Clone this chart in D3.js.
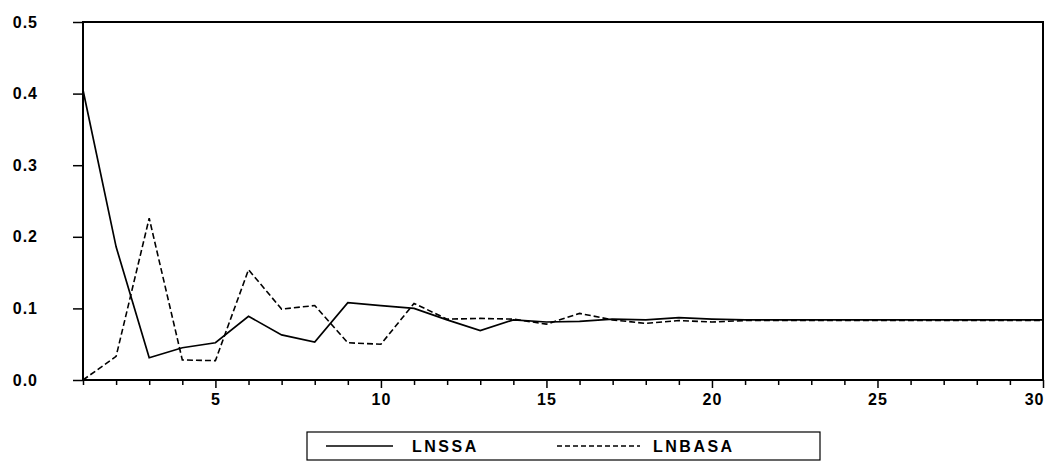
<!DOCTYPE html>
<html>
<head>
<meta charset="utf-8">
<script src="https://cdn.jsdelivr.net/npm/d3@7"></script>
<style>
  body { margin: 0; background: #fff; }
  text { font-family: "Liberation Sans", Arial, sans-serif; font-weight: bold; }
</style>
</head>
<body>
<svg id="chart" width="1046" height="461"></svg>
<script>
var periods = d3.range(1, 31);
var lnssa = [0.405,0.186,0.031,0.045,0.052,0.089,0.063,0.053,0.108,0.104,
             0.100,0.084,0.069,0.084,0.081,0.082,0.085,0.084,0.087,0.085,
             0.084,0.084,0.084,0.084,0.084,0.084,0.084,0.084,0.084,0.084];
var lnbasa = [0.000,0.033,0.226,0.028,0.027,0.154,0.099,0.104,0.052,0.050,
              0.107,0.085,0.086,0.085,0.078,0.093,0.084,0.079,0.083,0.081,
              0.083,0.083,0.083,0.083,0.083,0.083,0.083,0.083,0.083,0.083];
var yTicks = [0.0, 0.1, 0.2, 0.3, 0.4, 0.5];
var seriesNames = ["LNSSA", "LNBASA"];

var svg = d3.select("#chart");
var plotLeft = 83, plotRight = 1043, plotTop = 22, plotBottom = 380;

var x = d3.scaleLinear().domain([1, 30]).range([plotLeft, plotRight]);
var y = d3.scaleLinear().domain([0, 0.5]).range([plotBottom, plotTop]);

// frame
svg.append("rect")
  .attr("x", plotLeft).attr("y", plotTop)
  .attr("width", plotRight - plotLeft).attr("height", plotBottom - plotTop)
  .attr("fill", "none").attr("stroke", "#000").attr("stroke-width", 2);

// y axis
var yAxis = svg.append("g")
  .attr("transform", "translate(" + plotLeft + ",0)")
  .call(d3.axisLeft(y).tickValues(yTicks).tickFormat(d3.format(".1f")).tickSize(10).tickPadding(35));
yAxis.select(".domain").remove();
yAxis.selectAll("line").attr("stroke-width", 1.5);
yAxis.selectAll("text").attr("font-size", 16).attr("letter-spacing", 1).attr("fill", "#000");

// x axis: minor ticks at every period, labels at multiples of 5
var xAxis = svg.append("g")
  .attr("transform", "translate(0," + plotBottom + ")")
  .call(d3.axisBottom(x).tickValues(periods)
    .tickFormat(function(d){ return d % 5 === 0 ? d : ""; })
    .tickSize(5).tickPadding(9));
xAxis.select(".domain").remove();
xAxis.selectAll(".tick line")
  .attr("y2", function(d){ return d % 5 === 0 ? 8 : 5; })
  .attr("stroke-width", 1.5);
xAxis.selectAll("text").attr("font-size", 16).attr("letter-spacing", 1).attr("fill", "#000");
// last label would run off the page: pull it inside
xAxis.selectAll(".tick text")
  .filter(function(d){ return d === 30; })
  .attr("text-anchor", "end").attr("dx", 1);

var line = d3.line()
  .x(function(d,i){ return x(periods[i]); })
  .y(function(d){ return y(d); });

svg.append("path")
  .datum(lnssa)
  .attr("d", line)
  .attr("fill", "none").attr("stroke", "#000").attr("stroke-width", 1.7);

svg.append("path")
  .datum(lnbasa)
  .attr("d", line)
  .attr("fill", "none").attr("stroke", "#000").attr("stroke-width", 1.6)
  .attr("stroke-dasharray", "6,3");

// legend
var legend = svg.append("g");
legend.append("rect")
  .attr("x", 307).attr("y", 432).attr("width", 513).attr("height", 28)
  .attr("fill", "none").attr("stroke", "#000").attr("stroke-width", 1.2);
legend.append("line")
  .attr("x1", 326).attr("x2", 393).attr("y1", 446).attr("y2", 446)
  .attr("stroke", "#000").attr("stroke-width", 1.4);
legend.append("text")
  .attr("x", 412).attr("y", 452).attr("font-size", 16).attr("letter-spacing", 2.5)
  .text(seriesNames[0]);
legend.append("line")
  .attr("x1", 557).attr("x2", 640).attr("y1", 446).attr("y2", 446)
  .attr("stroke", "#000").attr("stroke-width", 1.4).attr("stroke-dasharray", "5,3");
legend.append("text")
  .attr("x", 653).attr("y", 452).attr("font-size", 16).attr("letter-spacing", 2.5)
  .text(seriesNames[1]);
</script>
</body>
</html>
